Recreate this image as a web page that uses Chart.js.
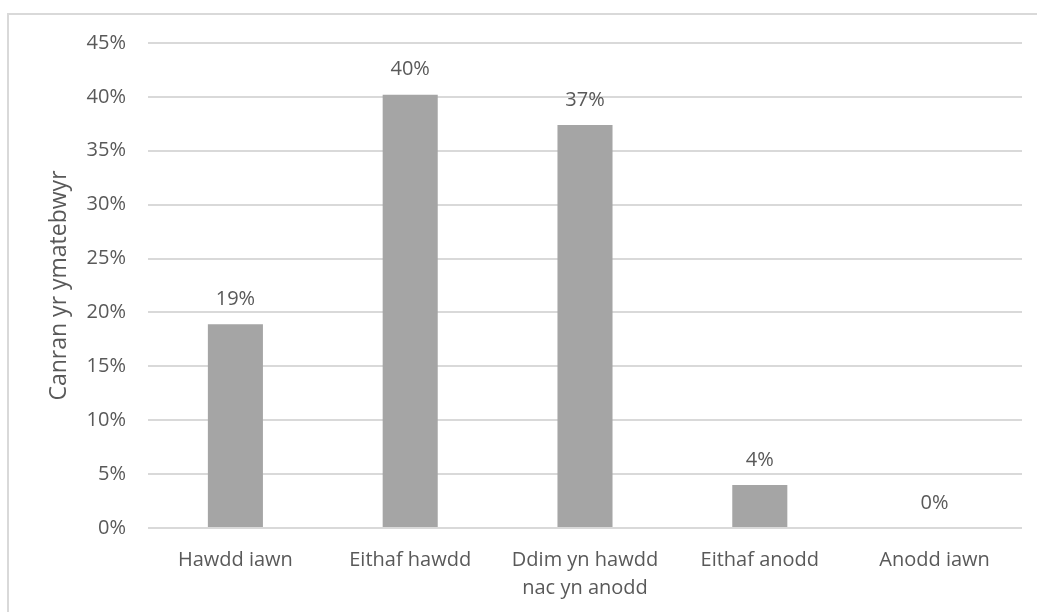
<!DOCTYPE html>
<html>
<head>
<meta charset="utf-8">
<script src="https://cdn.jsdelivr.net/npm/chart.js@4"></script>
<style>
  html, body { margin: 0; padding: 0; background: #fff; }
  #wrap { position: relative; width: 1037px; height: 612px; }
</style>
</head>
<body>
<div id="wrap"><canvas id="chart" width="1037" height="612"></canvas></div>
<script>
const categories = ['Hawdd iawn', 'Eithaf hawdd', ['Ddim yn hawdd', 'nac yn anodd'], 'Eithaf anodd', 'Anodd iawn'];
const percentValues = [18.9, 40.2, 37.4, 4.0, 0];
const valueLabels = ['19%', '40%', '37%', '4%', '0%'];
const yTickValues = [0, 5, 10, 15, 20, 25, 30, 35, 40, 45];

const textColor = '#595959';
const fontFamily = '"Open Sans", "Noto Sans", sans-serif';
const fontSize = 20;

// outer frame of the chart, it runs off the right and bottom edge
const framePlugin = {
    id: 'frame',
    beforeDraw(chart) {
        const ctx = chart.ctx;
        ctx.save();
        ctx.strokeStyle = '#d9d9d9';
        ctx.lineWidth = 2;
        ctx.beginPath();
        ctx.moveTo(8, 700);
        ctx.lineTo(8, 14);
        ctx.lineTo(1100, 14);
        ctx.stroke();
        ctx.restore();
    }
};

// value labels above each bar
const valueLabelPlugin = {
    id: 'valueLabels',
    afterDatasetsDraw(chart) {
        const ctx = chart.ctx;
        const meta = chart.getDatasetMeta(0);
        ctx.save();
        ctx.fillStyle = textColor;
        ctx.font = fontSize + 'px ' + fontFamily;
        ctx.textAlign = 'center';
        ctx.textBaseline = 'middle';
        meta.data.forEach(function(bar, i) {
            ctx.fillText(valueLabels[i], bar.x, bar.y - 25);
        });
        ctx.restore();
    }
};

const ctx = document.getElementById('chart').getContext('2d');
const chart = new Chart(ctx, {
    type: 'bar',
    data: {
        labels: categories,
        datasets: [{
            data: percentValues,
            backgroundColor: '#a5a5a5',
            barPercentage: 0.315,
            categoryPercentage: 1.0
        }]
    },
    options: {
        responsive: false,
        animation: false,
        layout: {
            padding: { top: 43, right: 15, left: 0, bottom: 0 }
        },
        plugins: {
            legend: { display: false },
            tooltip: { enabled: false }
        },
        scales: {
            x: {
                grid: { display: false, drawTicks: false },
                border: { display: false },
                ticks: {
                    color: textColor,
                    font: { family: fontFamily, size: fontSize, lineHeight: 1.4 },
                    padding: 18,
                    maxRotation: 0,
                    autoSkip: false
                },
                afterFit(scale) { scale.height = 84; }
            },
            y: {
                min: 0,
                max: 45,
                afterBuildTicks(scale) {
                    scale.ticks = yTickValues.map(function(v) { return { value: v }; });
                },
                grid: { color: '#d9d9d9', lineWidth: 2, drawTicks: false },
                border: { display: false },
                ticks: {
                    color: textColor,
                    font: { family: fontFamily, size: fontSize },
                    padding: 22,
                    callback: function(value) { return value + '%'; }
                },
                title: {
                    display: true,
                    text: 'Canran yr ymatebwyr',
                    color: textColor,
                    font: { family: fontFamily, size: 23 },
                    padding: { top: 46, bottom: 0 }
                },
                afterFit(scale) { scale.width = 148; }
            }
        }
    },
    plugins: [framePlugin, valueLabelPlugin]
});
</script>
</body>
</html>
